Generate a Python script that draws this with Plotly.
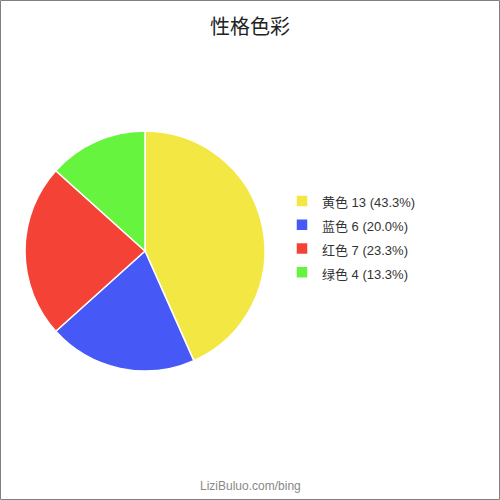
import plotly.graph_objects as go

categories = ["黄色", "蓝色", "红色", "绿色"]
values = [13, 6, 7, 4]
colors = ["#F3E744", "#4658F5", "#F44336", "#66F43F"]
title_text = "性格色彩"
footer_text = "LiziBuluo.com/bing"

total = sum(values)
labels = [
    f'<span style="font-size:13px">{c} {v} ({v / total * 100:.1f}%)</span>'
    for c, v in zip(categories, values)
]

fig = go.Figure(
    go.Pie(
        labels=labels,
        values=values,
        marker=dict(colors=colors, line=dict(color="white", width=1.5)),
        sort=False,
        direction="clockwise",
        rotation=0,
        textinfo="none",
        domain=dict(x=[25 / 500, 265 / 500], y=[1 - 371 / 500, 1 - 131 / 500]),
    )
)

fig.update_layout(
    width=500,
    height=500,
    margin=dict(l=0, r=0, t=0, b=0),
    paper_bgcolor="white",
    plot_bgcolor="white",
    font=dict(family="Arial, 'Liberation Sans', 'Noto Sans CJK SC', sans-serif", color="#333333"),
    title=dict(
        text=title_text,
        x=0.5,
        xanchor="center",
        y=1 - 27 / 500,
        yanchor="middle",
        yref="container",
        font=dict(size=20, color="#222222", family="'Noto Sans CJK SC', sans-serif"),
    ),
    legend=dict(
        x=0.564,
        xanchor="left",
        y=1 - 237 / 500,
        yanchor="middle",
        font=dict(size=16, color="#333333", family="Arial, 'Liberation Sans', 'Noto Sans CJK SC', sans-serif"),
        bgcolor="rgba(0,0,0,0)",
    ),
    showlegend=True,
    annotations=[
        dict(
            text=footer_text,
            x=0.5,
            y=1 - 486 / 500,
            xref="paper",
            yref="paper",
            xanchor="center",
            yanchor="middle",
            showarrow=False,
            font=dict(size=12, color="#888888"),
        )
    ],
    shapes=[
        dict(
            type="rect",
            xref="paper",
            yref="paper",
            x0=0.5 / 500,
            x1=499.5 / 500,
            y0=0.5 / 500,
            y1=499.5 / 500,
            line=dict(color="#808080", width=1),
            fillcolor="rgba(0,0,0,0)",
        )
    ],
)

fig.write_html(
    "out.html",
    config={"displayModeBar": False},
    post_script="document.body.style.margin='0';document.body.style.overflow='hidden';",
)
